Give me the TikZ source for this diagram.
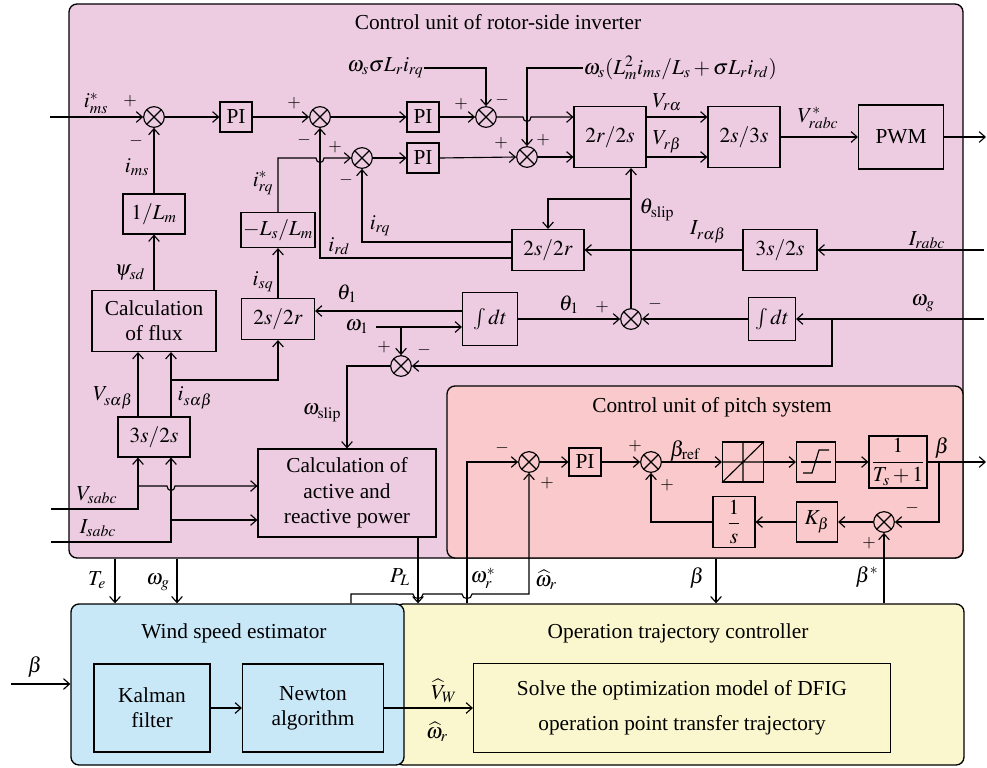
\documentclass[tikz,border=0pt]{standalone}
\usepackage{amsmath}
\usepackage{mathptmx}
\usepackage{fontspec}
\setmainfont{Liberation Serif}
\usetikzlibrary{arrows.meta,calc}
\definecolor{rotorc}{RGB}{237,204,226}
\definecolor{pitchc}{RGB}{249,201,203}
\definecolor{wsec}{RGB}{200,231,247}
\definecolor{otcc}{RGB}{250,247,206}
\begin{document}
\begin{tikzpicture}[x=0.75pt,y=-0.75pt, line width=0.85pt,
 every node/.style={font=\fontsize{16}{19}\selectfont},
 blk/.style={draw, inner sep=1pt, align=center},
 cont/.style={draw, rounded corners=6pt, line width=1pt},
 sz/.style 2 args={minimum width=#1*0.75pt, minimum height=#2*0.75pt},
 sumn/.style={circle, draw, minimum size=15.5pt, inner sep=0pt, path picture={\draw (path picture bounding box.south west) -- (path picture bounding box.north east) (path picture bounding box.north west) -- (path picture bounding box.south east);}},
 arr/.style={-{Straight Barb[length=4.5pt,width=8pt]}},
 lab/.style={inner sep=0pt},
 sg/.style={inner sep=0pt, font=\fontsize{13}{13}\selectfont},
]
\useasboundingbox (0,0) rectangle (987,767);

% containers
\node[cont, fill=rotorc, sz={894}{554}] (rotor) at (516,281) {};
\node[cont, fill=pitchc, sz={516}{172}] (pitch) at (705,472) {};
\node[cont, fill=otcc, sz={569}{161}] (otc) at (679.5,684.5) {};
\node[cont, fill=wsec, sz={333}{161}] (wse) at (237.5,684.5) {};

\node (t1) at (498,22) {Control unit of rotor-side inverter};
\node (t2) at (712,407) {Control unit of pitch system};
\node (t3) at (234,633) {Wind speed estimator};
\node (t4) at (678,633) {Operation trajectory controller};

% rotor-side blocks
\node[sumn] (s1) at (154,117) {};
\node[blk, sz={32}{30}] (pi1) at (236,117) {PI};
\node[sumn] (s2) at (320,117) {};
\node[blk, sz={32}{30}] (pi2) at (423,117) {PI};
\node[sumn] (s3) at (486,117) {};
\node[sumn] (s5) at (362,158) {};
\node[blk, sz={32}{30}] (pi3) at (423,158) {PI};
\node[sumn] (s4) at (527,157) {};
\node[blk, sz={72}{61}] (r2s) at (610,137) {$2r/2s$};
\node[blk, sz={72}{61}] (s23) at (744,137) {$2s/3s$};
\node[blk, sz={85}{64}] (pwm) at (901,137) {PWM};
\coordinate (pwmout) at (986,137);

\node[blk, sz={62}{40}] (ilm) at (154,214) {$1/L_m$};
\node[blk, sz={124}{61}] (flux) at (154,321) {Calculation\\of flux};
\node[blk, sz={72}{40}] (t32a) at (154,437) {$3s/2s$};
\node[blk, sz={73}{41}] (t22b) at (278,319) {$2s/2r$};
\node[blk, sz={74}{35}] (lsm) at (278,230) {$-L_s/L_m$};
\node[blk, sz={72}{41}] (t22a) at (548,250) {$2s/2r$};
\node[blk, sz={74}{41}] (t32b) at (780,250) {$3s/2s$};
\node[blk, sz={55}{53}] (int1) at (490,319) {$\int dt$};
\node[blk, sz={47}{43}] (int2) at (772,319) {$\int dt$};
\node[sumn] (s7) at (631,319) {};
\node[sumn] (s6) at (401,366) {};
\node[blk, sz={178}{88}] (calcp) at (347,493) {Calculation of\\active and\\reactive power};

% pitch blocks
\node[sumn] (s8) at (529,462) {};
\node[blk, sz={32}{28}] (pi4) at (585,462) {PI};
\node[sumn] (s9) at (651,462) {};
\node[blk, sz={41}{40}] (ba) at (743,462) {};
\node[blk, sz={39}{40}] (bb) at (816,462) {};
\node[blk, sz={58}{52}] (bc) at (898,462) {$\dfrac{1}{T_s+1}$};
\node[sumn] (s10) at (884,522) {};
\node[blk, sz={41}{40}] (kb) at (817,522) {$K_\beta$};
\node[blk, sz={42}{51}] (is) at (734,522) {$\dfrac{1}{s}$};
\coordinate (bout) at (986,462);

\draw (ba.north) -- (ba.south) (ba.west) -- (ba.east) (ba.south west) -- (ba.north east);
\draw ($(bb.center)+(-15,0)$) -- ($(bb.center)+(15,0)$);
\draw ($(bb.center)+(-13,11)$) -- ($(bb.center)+(-4,11)$) -- ($(bb.center)+(3,-12)$) -- ($(bb.center)+(13,-12)$);

% wind / operation blocks
\node[blk, sz={116}{88}] (kal) at (152,708) {Kalman\\filter};
\node[blk, sz={141}{88}] (newt) at (313,708) {Newton\\algorithm};
\node[blk, sz={417}{89}] (solve) at (682,708) {Solve the optimization model of DFIG\\[7pt]operation point transfer trajectory};

% coordinates
\coordinate (imsin) at (50,117);
\coordinate (irin) at (984,250);
\coordinate (wgin) at (984,319);
\coordinate (vin) at (51,509);
\coordinate (iin) at (51,542);
\coordinate (bin) at (11,684);
\coordinate (br1) at (171,380);
\coordinate (br2) at (631,199);
\coordinate (br3) at (401,327);
\coordinate (br4) at (832,319);
\coordinate (br5) at (138,486);
\coordinate (br6) at (171,520);
\coordinate (br7) at (939,462);
\coordinate (w1in) at (376,327);
\coordinate (teX) at (115,0);
\coordinate (wgX) at (177,0);
\coordinate (plX) at (418,0);
\coordinate (wsX) at (467,0);
\coordinate (whX) at (351,0);
\coordinate (btX) at (716,0);
\coordinate (bsX) at (884,0);

% top label feeds
\node[lab, anchor=east] (lw1) at (424,68) {$\omega_s\sigma L_r i_{rq}$};
\node[lab, anchor=west] (lw2) at (583,68) {$\omega_s(L_m^2 i_{ms}/L_s+\sigma L_r i_{rd})$};

% rotor connectors
\draw[arr] (imsin) -- (s1.west);
\draw[arr] (s1.east) -- (pi1.west);
\draw[arr] (pi1.east) -- (s2.west);
\draw[arr] (s2.east) -- (pi2.west);
\draw[arr] (pi2.east) -- (s3.west);
\draw[arr] (s3.east) -- (523,117) .. controls (523,123) and (531,123) .. (531,117) -- (r2s.west |- s3.east);
\draw[arr] (lw1.east) -| (s3.north);
\draw[arr] (lw2.west) -| (s4.north);
\draw[arr] (s5.east) -- (pi3.west);
\draw[arr] (pi3.east) -- (s4.west);
\draw[arr] (s4.east) -- (r2s.west |- s4.east);
\draw[arr] ($(r2s.east)+(0,-20)$) -- ($(s23.west)+(0,-20)$);
\draw[arr] ($(r2s.east)+(0,20)$) -- ($(s23.west)+(0,20)$);
\draw[arr] (s23.east) -- (pwm.west);
\draw[arr] (pwm.east) -- (pwmout);

\draw[arr] (ilm.north) -- (s1.south);
\draw[arr] (flux.north) -- (ilm.south);
\draw[arr] ($(t32a.north)+(-16,0)$) -- ($(flux.south)+(-16,0)$);
\draw[arr] ($(t32a.north)+(17,0)$) -- ($(flux.south)+(17,0)$);
\draw[arr] (br1) -| (t22b.south);
\draw[arr] (t22b.north) -- (lsm.south);
\draw[arr] (lsm.north) -- (278,158) -- (316,158) .. controls (316,164) and (324,164) .. (324,158) -- (s5.west);
\draw[arr] ($(t22a.west)+(0,8)$) -| (s2.south);
\draw[arr] ($(t22a.west)+(0,-8)$) -| (s5.south);
\draw[arr] (t32b.west) -- (t22a.east);
\draw[arr] (irin) -- (t32b.east);
\draw[arr] (s7.north) -- (s7.north |- r2s.south);
\draw[arr] (br2) -| (t22a.north);
\draw[arr] ($(int1.west)+(0,-8)$) -- ($(t22b.east)+(0,-8)$);
\draw[arr] (w1in) -- ($(int1.west)+(0,8)$);
\draw[arr] (br3) -- (s6.north);
\draw[arr] (int1.east) -- (s7.west);
\draw[arr] (int2.west) -- (s7.east);
\draw[arr] (wgin) -- (int2.east);
\draw[arr] (br4) |- (s6.east);
\draw[arr] (s6.west) -| (calcp.north);
\draw[arr] (vin) -| ($(t32a.south)+(-16,0)$);
\draw[arr] (br5) -- (167,486) .. controls (167,492) and (175,492) .. (175,486) -- (calcp.west |- br5);
\draw[arr] (iin) -| ($(t32a.south)+(17,0)$);
\draw[arr] (br6) -- (calcp.west |- br6);

% between units
\draw[arr] (teX |- rotor.south) -- (teX |- wse.north);
\draw[arr] (wgX |- rotor.south) -- (wgX |- wse.north);
\draw[arr] (plX |- calcp.south) -- (plX |- otc.north);
\draw[arr] (wsX |- otc.north) |- (s8.west);
\draw[arr] (whX |- wse.north) -- (351,594) -- (413,594) .. controls (413,600) and (423,600) .. (423,594) -- (462,594) .. controls (462,600) and (472,600) .. (472,594) -- (529,594) -- (s8.south);
\draw[arr] (btX |- pitch.south) -- (btX |- otc.north);
\draw[arr] (bsX |- otc.north) -- (s10.south);

% pitch connectors
\draw[arr] (s8.east) -- (pi4.west);
\draw[arr] (pi4.east) -- (s9.west);
\draw[arr] (s9.east) -- (ba.west);
\draw[arr] (ba.east) -- (bb.west);
\draw[arr] (bb.east) -- (bc.west);
\draw[arr] (bc.east) -- (bout);
\draw[arr] (br7) |- (s10.east);
\draw[arr] (s10.west) -- (kb.east);
\draw[arr] (kb.west) -- (is.east);
\draw[arr] (is.west) -| (s9.south);

% wind / operation connectors
\draw[arr] (bin) -- (bin -| wse.west);
\draw[arr] (kal.east) -- (newt.west);
\draw[arr] (newt.east) -- (solve.west);

% labels
\node[lab] (a1) at (96,103) {$i^*_{ms}$};
\node[sg] (a2) at (130,101) {$+$};
\node[sg] (a3) at (136,141) {$-$};
\node[lab] (a4) at (137,167) {$i_{ms}$};
\node[lab] (a5) at (130,273) {$\psi_{sd}$};
\node[lab] (a6) at (113,398) {$V_{s\alpha\beta}$};
\node[lab] (a7) at (195,398) {$i_{s\alpha\beta}$};
\node[lab] (a8) at (263,282) {$i_{sq}$};
\node[lab] (a9) at (263,183) {$i^*_{rq}$};
\node[sg] (a10) at (294,103) {$+$};
\node[sg] (a11) at (304,140) {$-$};
\node[sg] (a12) at (335,147) {$+$};
\node[sg] (a13) at (346,180) {$-$};
\node[lab] (a14) at (380,226) {$i_{rq}$};
\node[lab] (a15) at (339,246) {$i_{rd}$};
\node[sg] (a16) at (461,104) {$+$};
\node[sg] (a17) at (502,100) {$-$};
\node[sg] (a18) at (501,143) {$+$};
\node[sg] (a19) at (543,140) {$+$};
\node[lab] (a20) at (667,102) {$V_{r\alpha}$};
\node[lab] (a21) at (667,142) {$V_{r\beta}$};
\node[lab] (a22) at (818,118) {$V^*_{rabc}$};
\node[lab] (a23) at (657,210) {$\theta_{\mathrm{slip}}$};
\node[lab] (a24) at (708,232) {$I_{r\alpha\beta}$};
\node[lab] (a25) at (927,240) {$I_{rabc}$};
\node[lab] (a26) at (347,294) {$\theta_1$};
\node[lab] (a27) at (357,327) {$\omega_1$};
\node[lab] (a28) at (569,305) {$\theta_1$};
\node[sg] (a29) at (602,307) {$+$};
\node[sg] (a30) at (655,304) {$-$};
\node[lab] (a31) at (923,303) {$\omega_g$};
\node[sg] (a32) at (384,347) {$+$};
\node[sg] (a33) at (424,350) {$-$};
\node[lab] (a34) at (322,413) {$\omega_{\mathrm{slip}}$};
\node[lab] (a35) at (97,495) {$V_{sabc}$};
\node[lab] (a36) at (98,528) {$I_{sabc}$};
\node[lab] (a37) at (97,580) {$T_e$};
\node[lab] (a38) at (158,582) {$\omega_g$};
\node[lab] (a39) at (35,667) {$\beta$};
\node[lab] (a40) at (400,577) {$P_L$};
\node[lab] (a41) at (483,578) {$\omega^*_r$};
\node[lab] (a42) at (546,580) {$\widehat{\omega}_r$};
\node[lab] (a43) at (697,578) {$\beta$};
\node[lab] (a44) at (867,577) {$\beta^*$};
\node[sg] (a45) at (502,448) {$-$};
\node[sg] (a46) at (547,483) {$+$};
\node[sg] (a47) at (635,446) {$+$};
\node[sg] (a48) at (667,485) {$+$};
\node[lab] (a49) at (685,451) {$\beta_{\mathrm{ref}}$};
\node[lab] (a50) at (942,448) {$\beta$};
\node[sg] (a51) at (912,508) {$-$};
\node[sg] (a52) at (869,543) {$+$};
\node[lab] (a53) at (444,691) {$\widehat{V}_W$};
\node[lab] (a54) at (437,732) {$\widehat{\omega}_r$};
\end{tikzpicture}
\end{document}
